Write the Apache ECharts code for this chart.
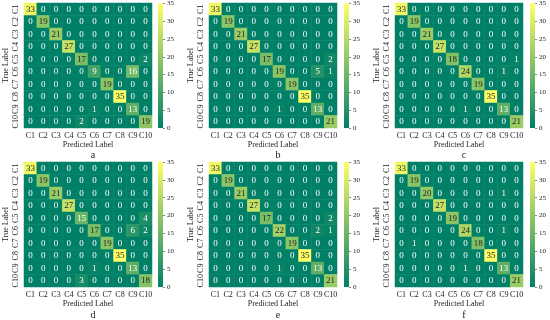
<!DOCTYPE html>
<html><head><meta charset="utf-8">
<script src="https://cdn.jsdelivr.net/npm/echarts@6/dist/echarts.min.js"></script>
<style>html,body{margin:0;padding:0;background:#fff}#c{width:550px;height:320px}</style>
</head><body><div id="c"></div>
<script>
var classes = ['C1','C2','C3','C4','C5','C6','C7','C8','C9','C10'];
var colorbarTicks = [0,5,10,15,20,25,30,35];
var panelNames = ['a','b','c','d','e','f'];
// rows = true label C1..C10, columns = predicted C1..C10
var matA = [
 [33,0,0,0,0,0,0,0,0,0],
 [0,19,0,0,0,0,0,0,0,0],
 [0,0,21,0,0,0,0,0,0,0],
 [0,0,0,27,0,0,0,0,0,0],
 [0,0,0,0,17,0,0,0,0,2],
 [0,0,0,0,0,9,0,0,16,0],
 [0,0,0,0,0,0,19,0,0,0],
 [0,0,0,0,0,0,0,35,0,0],
 [0,0,0,0,0,1,0,0,13,0],
 [0,0,0,0,2,0,0,0,0,19]];
var matB = [
 [33,0,0,0,0,0,0,0,0,0],
 [0,19,0,0,0,0,0,0,0,0],
 [0,0,21,0,0,0,0,0,0,0],
 [0,0,0,27,0,0,0,0,0,0],
 [0,0,0,0,17,0,0,0,0,2],
 [0,0,0,0,0,19,0,0,5,1],
 [0,0,0,0,0,0,19,0,0,0],
 [0,0,0,0,0,0,0,35,0,0],
 [0,0,0,0,0,1,0,0,13,0],
 [0,0,0,0,0,0,0,0,0,21]];
var matC = [
 [33,0,0,0,0,0,0,0,0,0],
 [0,19,0,0,0,0,0,0,0,0],
 [0,0,21,0,0,0,0,0,0,0],
 [0,0,0,27,0,0,0,0,0,0],
 [0,0,0,0,18,0,0,0,0,1],
 [0,0,0,0,0,24,0,0,1,0],
 [0,0,0,0,0,0,19,0,0,0],
 [0,0,0,0,0,0,0,35,0,0],
 [0,0,0,0,0,1,0,0,13,0],
 [0,0,0,0,0,0,0,0,0,21]];
var matD = [
 [33,0,0,0,0,0,0,0,0,0],
 [0,19,0,0,0,0,0,0,0,0],
 [0,0,21,0,0,0,0,0,0,0],
 [0,0,0,27,0,0,0,0,0,0],
 [0,0,0,0,15,0,0,0,0,4],
 [0,0,0,0,0,17,0,0,6,2],
 [0,0,0,0,0,0,19,0,0,0],
 [0,0,0,0,0,0,0,35,0,0],
 [0,0,0,0,0,1,0,0,13,0],
 [0,0,0,0,3,0,0,0,0,18]];
var matE = [
 [33,0,0,0,0,0,0,0,0,0],
 [0,19,0,0,0,0,0,0,0,0],
 [0,0,21,0,0,0,0,0,0,0],
 [0,0,0,27,0,0,0,0,0,0],
 [0,0,0,0,17,0,0,0,0,2],
 [0,0,0,0,0,22,0,0,2,1],
 [0,0,0,0,0,0,19,0,0,0],
 [0,0,0,0,0,0,0,35,0,0],
 [0,0,0,0,0,1,0,0,13,0],
 [0,0,0,0,0,0,0,0,0,21]];
var matF = [
 [33,0,0,0,0,0,0,0,0,0],
 [0,19,0,0,0,0,0,0,0,0],
 [0,0,20,0,0,0,0,0,1,0],
 [0,0,0,27,0,0,0,0,0,0],
 [0,0,0,0,19,0,0,0,0,0],
 [0,0,0,0,0,24,0,0,1,0],
 [0,1,0,0,0,0,18,0,0,0],
 [0,0,0,0,0,0,0,35,0,0],
 [0,0,0,0,0,1,0,0,13,0],
 [0,0,0,0,0,0,0,0,0,21]];
var matrices = [matA, matB, matC, matD, matE, matF];

var vmin = 0, vmax = 35;
var FONT = '"Liberation Serif","DejaVu Serif",serif';
var chart = echarts.init(document.getElementById('c'), null, {renderer:'canvas'});

function lin(c){ c/=255; return c<=0.03928 ? c/12.92 : Math.pow((c+0.055)/1.055,2.4); }
function textColor(v){
  var t=(v-vmin)/(vmax-vmin);
  var r=255*t, g=127.5+127.5*t, b=102;
  var L=0.2126*lin(r)+0.7152*lin(g)+0.0722*lin(b);
  return L<0.408 ? '#ffffff' : '#262626';
}

var colLeft = [24, 209, 395];
var cbLeft = [158, 344, 530];
var rowTop = [3, 162];
var W = 128, H = 125, CBW = 5;

var grids=[], xAxes=[], yAxes=[], series=[], titles=[];
for (var p=0;p<6;p++){
  var col=p%3, row=Math.floor(p/3);
  grids.push({left:colLeft[col], top:rowTop[row], width:W, height:H});
  xAxes.push({type:'category', data:classes, gridIndex:p, position:'bottom',
    axisLine:{show:false}, axisTick:{show:false}, splitArea:{show:false},
    axisLabel:{fontFamily:FONT, fontSize:8, color:'#222', margin:4, interval:0},
    name:'Predicted Label', nameLocation:'middle', nameGap:13,
    nameTextStyle:{fontFamily:FONT, fontSize:8, color:'#222'}});
  yAxes.push({type:'category', data:classes, gridIndex:p, inverse:true,
    axisLine:{show:false}, axisTick:{show:false},
    axisLabel:{fontFamily:FONT, fontSize:8, color:'#222', rotate:90, margin:4, interval:0, align:'center', verticalAlign:'bottom'},
    name:'True Label', nameLocation:'middle', nameGap:14, nameRotate:90,
    nameTextStyle:{fontFamily:FONT, fontSize:8, color:'#222'}});
  var m=matrices[p], data=[];
  for (var i=0;i<10;i++) for (var j=0;j<10;j++){
    data.push({value:[j,i,m[i][j]], label:{color:textColor(m[i][j])}});
  }
  series.push({type:'heatmap', xAxisIndex:p, yAxisIndex:p, data:data,
    label:{show:true, fontFamily:FONT, fontSize:9},
    emphasis:{disabled:true}, progressive:0});
  titles.push({text:panelNames[p], left:colLeft[col]+W/2, top:(row===0?145:305), textAlign:'center',
    textStyle:{fontFamily:FONT, fontSize:10, fontWeight:'normal', color:'#222'}});
}
// colorbars
for (var p=0;p<6;p++){
  var col=p%3, row=Math.floor(p/3), gi=6+p;
  grids.push({left:cbLeft[col], top:rowTop[row], width:CBW, height:H});
  xAxes.push({type:'category', data:['cb'], gridIndex:gi, show:false});
  yAxes.push({type:'value', gridIndex:gi, min:vmin, max:vmax, interval:5, position:'right',
    axisLine:{show:false}, splitLine:{show:false},
    axisTick:{show:true, length:2, lineStyle:{color:'#333', width:0.6}},
    axisLabel:{fontFamily:FONT, fontSize:7, color:'#222', margin:4,
      formatter:function(v){ return colorbarTicks.indexOf(v)>=0 ? String(v) : ''; }}});
  series.push({type:'bar', xAxisIndex:gi, yAxisIndex:gi, data:[vmax], barWidth:'100%', silent:true,
    itemStyle:{color:new echarts.graphic.LinearGradient(0,0,0,1,[{offset:0,color:'#ffff66'},{offset:1,color:'#008066'}])}});
}

chart.setOption({
  animation:false,
  title:titles,
  grid:grids, xAxis:xAxes, yAxis:yAxes,
  visualMap:[{type:'continuous', show:false, min:vmin, max:vmax, seriesIndex:[0,1,2,3,4,5],
    inRange:{color:['#008066','#ffff66']}}],
  series:series
});
</script></body></html>
